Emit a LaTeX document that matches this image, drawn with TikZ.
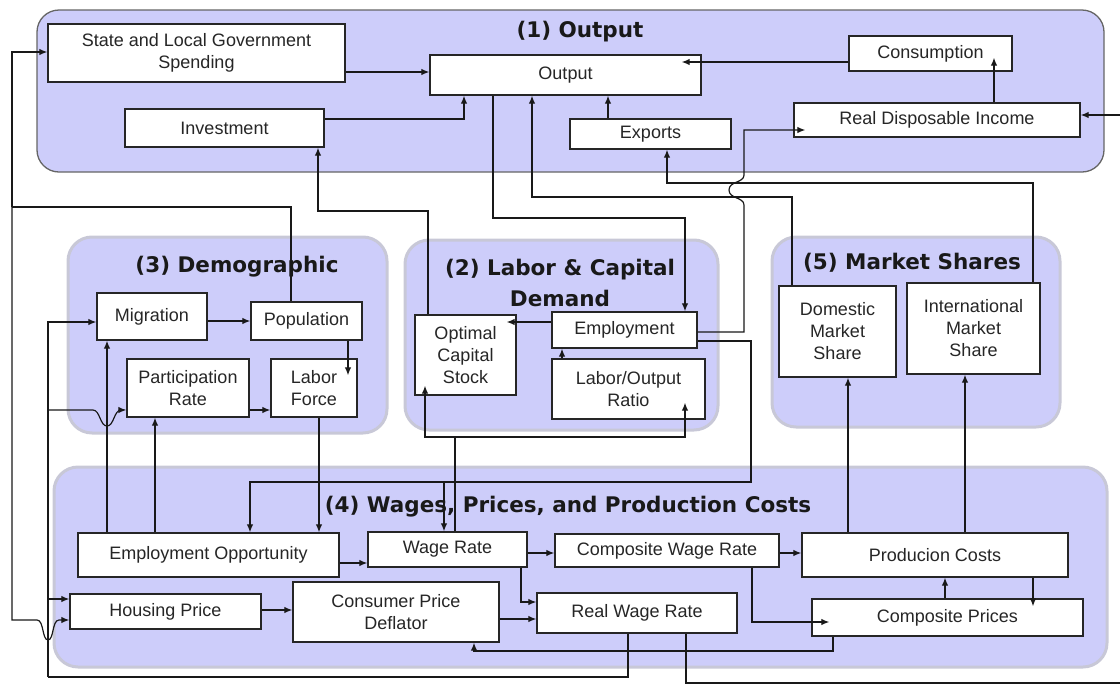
\documentclass[tikz,border=0pt]{standalone}
\usepackage{fontspec}
\setmainfont{Liberation Sans}
\newfontfamily\grptitlefont{DejaVu Sans}
\newcommand\bxfont{\fontsize{18}{22}\selectfont}
\usetikzlibrary{arrows.meta}

\definecolor{lav}{RGB}{205,205,250}
\definecolor{grpedge}{RGB}{200,200,215}

\tikzset{
  grp/.style={fill=lav, draw=grpedge, line width=3pt, rounded corners=24pt},
  outgrp/.style={fill=lav, draw=black!60, line width=1.3pt, rounded corners=22pt},
  box/.style={draw=black!85, fill=white, line width=1.4pt, inner sep=0pt,
              align=center, font=\bxfont, text=black!85},
  ttl/.style={font=\grptitlefont\bfseries\fontsize{21.5}{31}\selectfont,
              align=center, text=black!90},
  wire/.style={draw=black!90, line width=1.2pt},
  arr/.style={wire, -{Latex[length=8pt,width=6.5pt]}},
}

\begin{document}
\begin{tikzpicture}[x=1pt,y=-1pt]
\useasboundingbox (0,0) rectangle (1120,686);

% ---- sector panels
\draw[outgrp] (37,10) rectangle (1104,172);
\draw[grp] (68,237) rectangle (387,433);
\draw[grp] (405,240) rectangle (718,430);
\draw[grp] (772,237) rectangle (1060,427);
\draw[grp] (54,467) rectangle (1107,667);

\node[ttl] (t1) at (580,32) {(1) Output};
\node[ttl] (t3) at (237,267) {(3) Demographic};
\node[ttl] (t2) at (560,282.5) {(2) Labor \& Capital\\Demand};
\node[ttl] (t5) at (912,263) {(5) Market Shares};
\node[ttl] (t4) at (568,507) {(4) Wages, Prices, and Production Costs};

% ---- (1) Output
\node[box, minimum width=297pt, minimum height=58pt] (sl) at (196.5,53) {State and Local Government\\Spending};
\node[box, minimum width=271pt, minimum height=40pt] (out) at (565.5,75) {Output};
\node[box, minimum width=163pt, minimum height=35pt] (cons) at (930.5,53.5) {Consumption};
\node[box, minimum width=199pt, minimum height=38pt] (inv) at (224.5,128) {Investment};
\node[box, minimum width=161pt, minimum height=30pt] (exp) at (650.5,134) {Exports};
\node[box, minimum width=286pt, minimum height=34pt] (rdi) at (937,120) {Real Disposable Income};

% ---- (3) Demographic
\node[box, minimum width=110pt, minimum height=47pt] (mig) at (152,316.5) {Migration};
\node[box, minimum width=111pt, minimum height=38pt] (pop) at (306.5,321) {Population};
\node[box, minimum width=122pt, minimum height=58pt] (pr) at (188,388) {Participation\\Rate};
\node[box, minimum width=86pt, minimum height=58pt] (lf) at (314,388) {Labor\\Force};

% ---- (2) Labor & Capital Demand
\node[box, minimum width=101pt, minimum height=80pt] (ocs) at (465.5,355) {Optimal\\Capital\\Stock};
\node[box, minimum width=145pt, minimum height=36pt] (emp) at (624.5,330) {Employment};
\node[box, minimum width=153pt, minimum height=60pt] (lo) at (628.5,389) {Labor/Output\\Ratio};

% ---- (5) Market Shares
\node[box, minimum width=117pt, minimum height=91pt] (dms) at (837.5,331.5) {Domestic\\Market\\Share};
\node[box, minimum width=133pt, minimum height=91pt] (ims) at (973.5,328.5) {International\\Market\\Share};

% ---- (4) Wages, Prices, and Production Costs
\node[box, minimum width=261pt, minimum height=44pt] (eo) at (208.5,555) {Employment Opportunity};
\node[box, minimum width=159pt, minimum height=35pt] (wr) at (447.5,549.5) {Wage Rate};
\node[box, minimum width=224pt, minimum height=33pt] (cwr) at (667,550.5) {Composite Wage Rate};
\node[box, minimum width=266pt, minimum height=44pt] (pc) at (935,555) {Producion Costs};
\node[box, minimum width=191pt, minimum height=35pt] (hp) at (165.5,611.5) {Housing Price};
\node[box, minimum width=206pt, minimum height=60pt] (cpd) at (396,612) {Consumer Price\\Deflator};
\node[box, minimum width=200pt, minimum height=40pt] (rwr) at (637,613) {Real Wage Rate};
\node[box, minimum width=271pt, minimum height=37pt] (cp) at (947.5,617.5) {Composite Prices};

% ---- junctions
\coordinate (jw) at (444,482);
\coordinate (jwr) at (455,437);
\coordinate (jp) at (12,207);
\coordinate (jr) at (48,677);
\coordinate (jrp) at (48,410);
\coordinate (jrh) at (48,599);

% ---- links inside (1)
\draw[arr] (sl.east |- 0,72) -- (out.west |- 0,72);
\draw[arr] (inv.east |- 0,119) -| (out.south -| 464,0);
\draw[arr, shorten >=-20pt] (cons.west |- 0,62) -- (out.east |- 0,62);
\draw[arr] (exp.north -| 608,0) -- (out.south -| 608,0);
\draw[arr, shorten >=-14pt] (rdi.north -| 994,0) -- (cons.south -| 994,0);

% ---- links between sectors
\draw[arr] (rwr.south -| 686,0) -- (686,683) -- (1135,683) -- (1135,115) -- (rdi.east |- 0,115);
\draw[arr] (out.south -| 493,0) -- (493,218) -| (emp.north -| 685,0);
\draw[arr] (dms.north -| 792,0) |- (532,197) -- (out.south -| 532,0);
\draw[arr] (ims.north -| 1033,0) |- (667,183) -- (exp.south -| 667,0);
\draw[arr, shorten >=-12pt] (emp.east |- 0,332) -- (744,332) -- (744,205)
  .. controls (744,197) and (729,199) .. (729,190)
  .. controls (729,181) and (744,183) .. (744,175)
  -- (744,130) -- (rdi.west |- 0,130);
\draw[arr] (ocs.north -| 428,0) |- (318,211) -- (inv.south -| 318,0);

% ---- (2)
\draw[arr] (emp.east |- 0,341) -- (751,341) -- (751,482) -| (eo.north -| 250,0);
\draw[arr] (jw) -- (wr.north -| 444,0);
\draw[wire] (wr.north -| 455,0) -- (jwr);
\draw[arr, shorten >=-10pt] (jwr) -| (ocs.south -| 425,0);
\draw[arr, shorten >=-17pt] (jwr) -| (lo.south -| 685,0);
\draw[arr, shorten >=-10pt] (emp.west |- 0,322) -- (ocs.east |- 0,322);
\draw[arr] (lo.north -| 562,0) -- (emp.south -| 562,0);

% ---- (3)
\draw[wire] (pop.north -| 291,0) |- (jp);
\draw[arr] (jp) |- (sl.west |- 0,52);
\draw[arr] (jp) -- (12,620) -- (37,620)
  .. controls (44,620) and (42,640) .. (48,640)
  .. controls (54,640) and (52,620) .. (59,620) -- (hp.west |- 0,620);
\draw[arr] (mig.east |- 0,321) -- (pop.west |- 0,321);
\draw[arr, shorten >=-17pt] (pop.south -| 348,0) -- (lf.north -| 348,0);
\draw[arr] (pr.east |- 0,410) -- (lf.west |- 0,410);
\draw[arr] (lf.south -| 319,0) -- (eo.north -| 319,0);
\draw[arr] (eo.north -| 107,0) -- (mig.south -| 107,0);
\draw[arr] (eo.north -| 155,0) -- (pr.south -| 155,0);
\draw[wire] (rwr.south -| 628,0) |- (jr);
\draw[arr] (jr) |- (mig.west |- 0,322);
\draw[arr] (jrp) -- (93,410)
  .. controls (100,410) and (100,426) .. (107,426)
  .. controls (114,426) and (114,410) .. (121,410) -- (pr.west |- 0,410);
\draw[arr] (jrh) -- (hp.west |- 0,599);

% ---- (4)
\draw[arr] (eo.east |- 0,563) -- (wr.west |- 0,563);
\draw[arr] (wr.east |- 0,553) -- (cwr.west |- 0,553);
\draw[arr] (cwr.east |- 0,553) -- (pc.west |- 0,553);
\draw[arr] (wr.south -| 521,0) |- (rwr.west |- 0,602);
\draw[arr] (hp.east |- 0,610) -- (cpd.west |- 0,610);
\draw[arr] (cpd.east |- 0,619) -- (rwr.west |- 0,619);
\draw[arr, shorten >=-18pt] (cwr.south -| 752,0) |- (cp.west |- 0,622);
\draw[arr, shorten >=-8pt] (pc.south -| 1033,0) -- (cp.north -| 1033,0);
\draw[arr] (cp.north -| 945,0) -- (pc.south -| 945,0);
\draw[arr] (pc.north -| 848,0) -- (dms.south -| 848,0);
\draw[arr] (pc.north -| 965,0) -- (ims.south -| 965,0);
\draw[arr] (cp.south -| 833,0) |- (474,651) -- (cpd.south -| 474,0);
\end{tikzpicture}
\end{document}
